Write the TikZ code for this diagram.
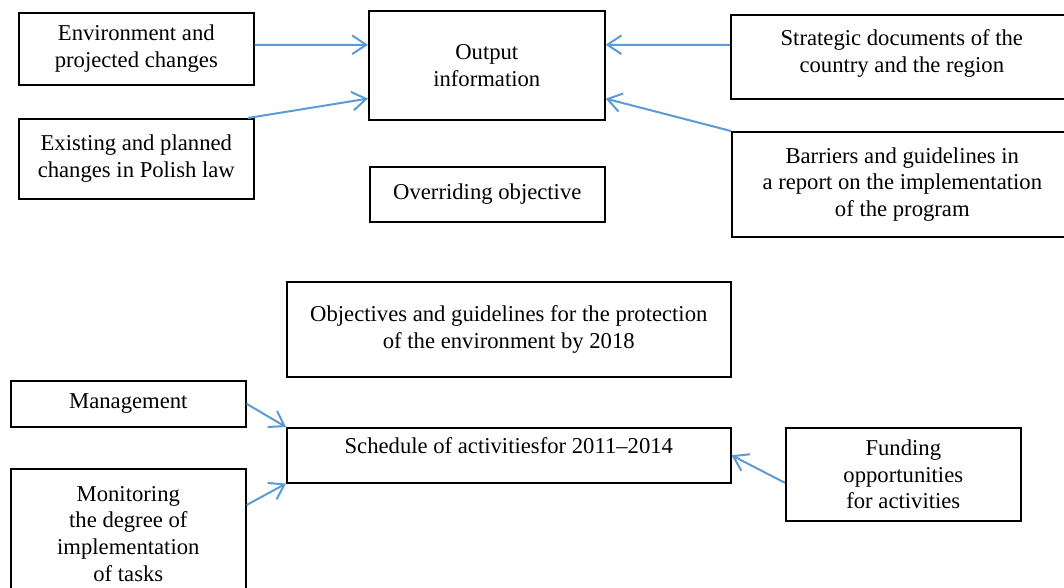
\documentclass[tikz,border=0pt]{standalone}
\usepackage{fontspec}
\setmainfont{Liberation Serif}
\usetikzlibrary{arrows.meta}

\begin{document}
\begin{tikzpicture}[x=0.75pt,y=0.75pt,yscale=-1,xscale=1,
  box/.style={draw, line width=1.2pt, anchor=north west, align=center, inner sep=0pt,
    font=\fontsize{17}{20}\selectfont},
  link/.style={draw={rgb,255:red,91;green,155;blue,213}, line width=1.5pt,
    -{Straight Barb[length=10.5pt,width=14pt,line width=1.5pt]}}]
%set diagram size to the reference, 1064 x 588
\useasboundingbox (0,0) rectangle (1064,588);

%Shape: Rectangle [Environment]
\node [box, minimum width=176.25pt, minimum height=54pt] (env) at (18,12) {Environment and\\projected changes};
%Shape: Rectangle [Output]
\node [box, minimum width=177pt, minimum height=81.75pt] (out) at (368,10) {Output\\information};
%Shape: Rectangle [Strategic]
\node [box, minimum width=256.5pt, minimum height=63pt, text depth=9pt] (strat) at (730,14) {Strategic documents of the\\country and the region};
%Shape: Rectangle [Existing]
\node [box, minimum width=176.25pt, minimum height=60pt] (exist) at (18,118) {Existing and planned\\changes in Polish law};
%Shape: Rectangle [Overriding]
\node [box, minimum width=176.25pt, minimum height=41.25pt] (overr) at (369,166) {Overriding objective};
%Shape: Rectangle [Barriers]
\node [box, minimum width=255.75pt, minimum height=78.75pt] (barr) at (731,131) {Barriers and guidelines in\\a report on the implementation\\of the program};

%Shape: Rectangle [Objectives]
\node [box, minimum width=333pt, minimum height=71.25pt] (obj) at (286,281) {Objectives and guidelines for the protection\\of the environment by 2018};
%Shape: Rectangle [Management]
\node [box, minimum width=176.25pt, minimum height=34.5pt] (mgmt) at (10,380) {Management};
%Shape: Rectangle [Schedule]
\node [box, minimum width=333pt, minimum height=41.25pt, text depth=14pt] (sched) at (286,427) {Schedule of activitiesfor 2011--2014};
%Shape: Rectangle [Funding]
\node [box, minimum width=176.25pt, minimum height=69.75pt] (fund) at (785,427) {Funding\\opportunities\\for activities};
%Shape: Rectangle [Monitoring]
\node [box, minimum width=176.25pt, minimum height=97.5pt] (mon) at (10,468) {Monitoring\\the degree of\\implementation\\of tasks};

%Arrows [upper part]
\draw [link] ([yshift=-3pt]env.east) -- ([yshift=-15.4pt]out.west);
\draw [link] ([xshift=-5pt]exist.north east) -- ([yshift=-16.5pt]out.south west);
\draw [link] ([yshift=-9pt]strat.west) -- ([yshift=-15.4pt]out.east);
\draw [link] (barr.north west) -- ([yshift=-16.5pt]out.south east);

%Arrows [lower part]
\draw [link] (mgmt.east) -- (sched.north west);
\draw [link] ([yshift=27.75pt]mon.north east) -- (sched.south west);
\draw [link] ([yshift=6.4pt]fund.west) -- (sched.east);

\end{tikzpicture}
\end{document}
